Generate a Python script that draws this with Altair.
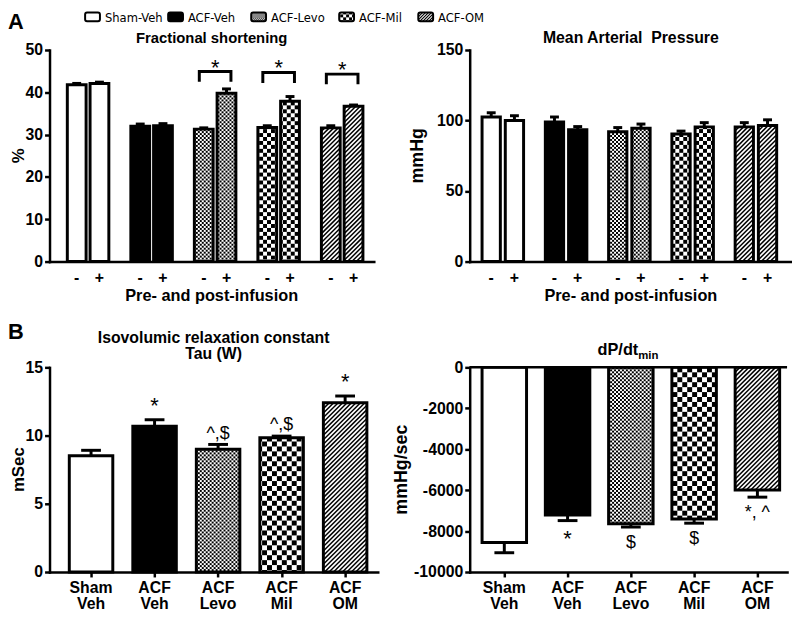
import altair as alt
import numpy as np
import pandas as pd

# ---------------- values ----------------
groups = ["Sham-Veh", "ACF-Veh", "ACF-Levo", "ACF-Mil", "ACF-OM"]
group_labels = ["Sham\nVeh", "ACF\nVeh", "ACF\nLevo", "ACF\nMil", "ACF\nOM"]
infusion = ["-", "+"]

fs_pre = [41.8, 32.0, 31.3, 31.7, 31.6]
fs_pre_err = [0.3, 0.5, 0.3, 0.4, 0.5]
fs_post = [42.1, 32.1, 39.8, 37.9, 36.7]
fs_post_err = [0.3, 0.5, 1.0, 1.1, 0.3]
fs_sig_groups = [2, 3, 4]
fs_sig_top = [44.9, 44.7, 44.3]
fs_sig_leg = [42.5, 42.2, 41.9]
fs_sig_text = ["*", "*", "*"]

map_pre = [102.5, 99.0, 92.0, 90.5, 95.5]
map_pre_err = [3.0, 3.5, 3.0, 2.0, 3.0]
map_post = [100.0, 93.5, 94.5, 95.5, 96.5]
map_post_err = [3.4, 2.2, 3.0, 3.0, 4.0]

tau = [8.52, 10.69, 9.0, 9.84, 12.41]
tau_err = [0.4, 0.47, 0.35, 0.12, 0.49]
tau_sig = ["", "*", "^,$", "^,$", "*"]

dpdt = [-8556, -7221, -7645, -7410, -5997]
dpdt_err = [502, 267, 157, 204, 345]
dpdt_sig = ["", "*", "$", "$", "*, ^"]

fs_ticks = [0, 10, 20, 30, 40, 50]
map_ticks = [0, 50, 100, 150]
tau_ticks = [0, 5, 10, 15]
dpdt_ticks = [-10000, -8000, -6000, -4000, -2000, 0]

# ---------------- styling ----------------
STYLE = ["white", "black", "fine", "checker", "hatch"]
FONT = "Liberation Sans"
NARROW = "'Liberation Sans Narrow', 'DejaVu Sans Condensed', 'Liberation Sans', sans-serif"


class Geo:
    def __init__(self, W, H, first, step, ydom):
        self.W, self.H = W, H
        self.xd = [-first / step, (W - first) / step]
        self.yd = list(ydom)
        self.kx = 1.0 / step
        self.ky = (ydom[1] - ydom[0]) / H

    def px_x(self, px):
        return self.xd[0] + px * self.kx

    def py_y(self, py):
        return self.yd[1] - py * self.ky


def pattern(geo, xl, xr, lo, hi, style, sizes):
    """Pattern fill for the rectangle [xl,xr]x[lo,hi], on a pixel grid of the panel."""
    cells, lines = [], []
    kx, ky = geo.kx, geo.ky
    pxl, pxr = (xl - geo.xd[0]) / kx, (xr - geo.xd[0]) / kx
    pyt, pyb = (geo.yd[1] - hi) / ky, (geo.yd[1] - lo) / ky
    if style in ("fine", "checker"):
        s = sizes[0] if style == "fine" else sizes[1]
        for i in range(int(np.floor(pxl / s)), int(np.ceil(pxr / s))):
            for j in range(int(np.floor(pyt / s)), int(np.ceil(pyb / s))):
                if (i + j) % 2:
                    continue
                xa, xb = max(pxl, i * s), min(pxr, (i + 1) * s)
                ya, yb = max(pyt, j * s), min(pyb, (j + 1) * s)
                if xb - xa <= 0.01 or yb - ya <= 0.01:
                    continue
                cells.append({"x": round(geo.px_x(xa), 5), "x2": round(geo.px_x(xb), 5),
                              "y": round(geo.py_y(ya), 5), "y2": round(geo.py_y(yb), 5)})
    elif style == "hatch":
        p = sizes[2]
        wpx, hpx = pxr - pxl, pyb - pyt
        c = -wpx + p / 2
        while c < hpx:
            xs = max(0.0, -c)
            xe = min(wpx, hpx - c)
            if xe - xs > 0.05:
                lines.append({"x": round(xl + xs * kx, 5), "y": round(lo + (xs + c) * ky, 5),
                              "x2": round(xl + xe * kx, 5), "y2": round(lo + (xe + c) * ky, 5)})
            c += p
    return cells, lines


def build(geo, centers, values, errs, styles, bar_px, cap_px, sizes):
    bars, cells, lines, erows = [], [], [], []
    for c, v, e, s in zip(centers, values, errs, styles):
        hw = bar_px / 2 * geo.kx
        lo, hi = min(0, v), max(0, v)
        bars.append(dict(x=c - hw, x2=c + hw, y=lo, y2=hi,
                         fillc="black" if s == "black" else "white"))
        cc, ll = pattern(geo, c - hw, c + hw, lo, hi, s, sizes)
        cells += cc
        lines += ll
        ye = v + e if v >= 0 else v - e
        erows.append(dict(xc=c, v=v, ye=ye, cl=c - cap_px / 2 * geo.kx, cr=c + cap_px / 2 * geo.kx))
    return pd.DataFrame(bars), pd.DataFrame(cells), pd.DataFrame(lines), pd.DataFrame(erows)


def y_axis(values, expr=None):
    kw = dict(values=values, title=None, grid=False, domainColor="black", domainWidth=2.5,
              domainCap="square", tickColor="black", tickWidth=2.5, tickSize=5,
              labelFont=FONT, labelFontWeight="bold", labelFontSize=16, labelColor="black",
              labelPadding=2, labelFlush=False, labelOverlap=False)
    if expr:
        kw["labelExpr"] = expr
    return alt.Axis(**kw)


def x_axis(values, ticks):
    return alt.Axis(values=values, title=None, grid=False, labels=False, ticks=ticks,
                    tickSize=5, tickWidth=2.5, tickColor="black", domainColor="black",
                    domainWidth=2.5, domainCap="square")


def txt(text, x, y, size, weight="bold", align="center", baseline="alphabetic", angle=0, font=FONT):
    kw = dict(fontSize=size, fontWeight=weight, align=align, baseline=baseline, font=font, color="black")
    if angle:
        kw["angle"] = angle
    return alt.Chart(pd.DataFrame({"t": [text]})).mark_text(**kw).encode(
        x=alt.value(x), y=alt.value(y), text="t:N")


def panel_layers(geo, data, xax, yax):
    bars, cells, lines, erows = data
    xs = alt.Scale(domain=geo.xd, nice=False, zero=False)
    ys = alt.Scale(domain=geo.yd, nice=False, zero=False)

    def X(f):
        return alt.X(f"{f}:Q", scale=xs, axis=xax)

    def Y(f):
        return alt.Y(f"{f}:Q", scale=ys, axis=yax)

    L = [alt.Chart(bars).mark_rect().encode(x=X("x"), x2="x2", y=Y("y"), y2="y2",
                                            fill=alt.Fill("fillc:N", scale=None))]
    if len(cells):
        L.append(alt.Chart(cells).mark_rect(fill="black").encode(x=X("x"), x2="x2", y=Y("y"), y2="y2"))
    if len(lines):
        L.append(alt.Chart(lines).mark_rule(color="black", strokeWidth=1.5).encode(
            x=X("x"), x2="x2", y=Y("y"), y2="y2"))
    L.append(alt.Chart(bars).mark_rect(fillOpacity=0, stroke="black", strokeWidth=3).encode(
        x=X("x"), x2="x2", y=Y("y"), y2="y2"))
    L.append(alt.Chart(erows).mark_rule(color="black", strokeWidth=3).encode(x=X("xc"), y=Y("v"), y2="ye"))
    L.append(alt.Chart(erows).mark_rule(color="black", strokeWidth=3).encode(x=X("cl"), x2="cr", y=Y("ye")))
    return L, X, Y


# ---------------- Panel A left: fractional shortening ----------------
gA1 = Geo(328, 214, 39, 64.25, (0, 50))
off1 = 11.5 * gA1.kx
cen_A1, val_A1, err_A1, sty_A1, sign_A1 = [], [], [], [], []
for g in range(5):
    cen_A1 += [g - off1, g + off1]
    val_A1 += [fs_pre[g], fs_post[g]]
    err_A1 += [fs_pre_err[g], fs_post_err[g]]
    sty_A1 += [STYLE[g], STYLE[g]]
    sign_A1 += infusion
dA1 = build(gA1, cen_A1, val_A1, err_A1, sty_A1, 19, 9, (2, 4, 4.5))
L1, X1, Y1 = panel_layers(gA1, dA1, x_axis(cen_A1, False), y_axis(fs_ticks))
L1.append(alt.Chart(pd.DataFrame({"xc": cen_A1, "s": sign_A1})).mark_text(
    font=FONT, fontWeight="bold", fontSize=16, baseline="middle", color="black").encode(
    x=X1("xc"), y=alt.value(gA1.H + 16.5), text="s:N"))
# significance brackets
br = []
for k, (g, t, lg) in enumerate(zip(fs_sig_groups, fs_sig_top, fs_sig_leg)):
    hw = 16 * gA1.kx
    for o, (xx, yy) in enumerate([(g - hw, lg), (g - hw, t), (g + hw, t), (g + hw, lg)]):
        br.append(dict(k=k, o=o, x=xx, y=yy))
L1.append(alt.Chart(pd.DataFrame(br)).mark_line(color="black", strokeWidth=3, strokeJoin="miter").encode(
    x=X1("x"), y=Y1("y"), detail="k:N", order="o:Q"))
L1.append(alt.Chart(pd.DataFrame({"xc": fs_sig_groups, "y": fs_sig_top, "t": fs_sig_text})).mark_text(
    font=FONT, fontSize=22, baseline="alphabetic", dy=3, color="black").encode(
    x=X1("xc"), y=Y1("y"), text="t:N"))
L1 += [
    txt("Fractional shortening", gA1.W / 2, -7, 15),
    txt("Pre- and post-infusion", gA1.W / 2, gA1.H + 40, 16.5),
    txt("%", -31, gA1.H / 2, 17, baseline="middle", angle=270),
    txt("A", -42, -21, 22, align="left"),
]
# legend (pattern swatches)
LEG_X = [36, 120, 204, 293, 373]
leg_bars, leg_cells, leg_lines, leg_txt = [], [], [], []
for g, px in enumerate(LEG_X):
    xl, xr = gA1.px_x(px), gA1.px_x(px + 15)
    hi, lo = gA1.py_y(-38), gA1.py_y(-29)
    leg_bars.append(dict(x=xl, x2=xr, y=lo, y2=hi, fillc="black" if STYLE[g] == "black" else "white"))
    cc, ll = pattern(gA1, xl, xr, lo, hi, STYLE[g], (1, 3, 3.0))
    leg_cells += cc
    leg_lines += ll
    leg_txt.append(dict(x=gA1.px_x(px + 20), t=groups[g]))
leg_bars = pd.DataFrame(leg_bars)
L1.append(alt.Chart(leg_bars).mark_rect().encode(x=X1("x"), x2="x2", y=Y1("y"), y2="y2",
                                                 fill=alt.Fill("fillc:N", scale=None)))
L1.append(alt.Chart(pd.DataFrame(leg_cells)).mark_rect(fill="black").encode(x=X1("x"), x2="x2", y=Y1("y"), y2="y2"))
L1.append(alt.Chart(pd.DataFrame(leg_lines)).mark_rule(color="black", strokeWidth=1.2).encode(
    x=X1("x"), x2="x2", y=Y1("y"), y2="y2"))
L1.append(alt.Chart(leg_bars).mark_rect(fillOpacity=0, stroke="black", strokeWidth=2, cornerRadius=2).encode(
    x=X1("x"), x2="x2", y=Y1("y"), y2="y2"))
L1.append(alt.Chart(pd.DataFrame(leg_txt)).mark_text(font=NARROW, fontSize=13, align="left",
                                                      baseline="alphabetic", color="black").encode(
    x=X1("x"), y=alt.value(-28), text="t:N"))
A_left = alt.layer(*L1).properties(width=gA1.W, height=gA1.H)

# ---------------- Panel A right: mean arterial pressure ----------------
gA2 = Geo(326, 214, 33.5, 64, (0, 150))
off2 = 11.75 * gA2.kx
cen_A2, val_A2, err_A2, sty_A2, sign_A2 = [], [], [], [], []
for g in range(5):
    cen_A2 += [g - off2, g + off2]
    val_A2 += [map_pre[g], map_post[g]]
    err_A2 += [map_pre_err[g], map_post_err[g]]
    sty_A2 += [STYLE[g], STYLE[g]]
    sign_A2 += infusion
dA2 = build(gA2, cen_A2, val_A2, err_A2, sty_A2, 18.5, 9, (2, 4, 4.5))
L2, X2, Y2 = panel_layers(gA2, dA2, x_axis(cen_A2, False), y_axis(map_ticks))
L2.append(alt.Chart(pd.DataFrame({"xc": cen_A2, "s": sign_A2})).mark_text(
    font=FONT, fontWeight="bold", fontSize=16, baseline="middle", color="black").encode(
    x=X2("xc"), y=alt.value(gA2.H + 16.5), text="s:N"))
L2 += [
    txt("Mean Arterial\u00a0 Pressure", gA2.W / 2, -7, 16),
    txt("Pre- and post-infusion", gA2.W / 2, gA2.H + 40, 16.5),
    txt("mmHg", -52, gA2.H / 2, 18, baseline="middle", angle=270),
]
A_right = alt.layer(*L2).properties(width=gA2.W, height=gA2.H)

# ---------------- Panel B left: Tau ----------------
gB1 = Geo(332, 207, 42, 64.25, (0, 15))
cen_B = list(range(5))
dB1 = build(gB1, cen_B, tau, tau_err, STYLE, 44, 20, (2, 5, 4.5))
L3, X3, Y3 = panel_layers(gB1, dB1, x_axis(cen_B, True), y_axis(tau_ticks))
ann3 = pd.DataFrame({"xc": cen_B, "y": [v + e for v, e in zip(tau, tau_err)], "t": tau_sig})
L3.append(alt.Chart(ann3).transform_filter("datum.t == '*'").mark_text(
    font=FONT, fontSize=22, baseline="alphabetic", dy=-7, color="black").encode(
    x=X3("xc"), y=Y3("y"), text="t:N"))
L3.append(alt.Chart(ann3).transform_filter("datum.t != '*' && datum.t != ''").mark_text(
    font=FONT, fontSize=18, baseline="alphabetic", dy=-6, color="black").encode(
    x=X3("xc"), y=Y3("y"), text="t:N"))
L3.append(alt.Chart(pd.DataFrame({"xc": cen_B, "t": group_labels})).mark_text(
    font=FONT, fontWeight="bold", fontSize=16, baseline="top", lineBreak="\n", lineHeight=16,
    color="black").encode(x=X3("xc"), y=alt.value(gB1.H + 8), text="t:N"))
L3 += [
    txt("Isovolumic relaxation constant", gB1.W / 2, -25, 16),
    txt("Tau (W)", gB1.W / 2, -8, 16),
    txt("mSec", -31, gB1.H / 2, 17, baseline="middle", angle=270),
    txt("B", -42, -29, 22, align="left"),
]
B_left = alt.layer(*L3).properties(width=gB1.W, height=gB1.H)

# ---------------- Panel B right: dP/dt min ----------------
gB2 = Geo(321, 207, 35, 64, (-10000, 0))
dB2 = build(gB2, cen_B, dpdt, dpdt_err, STYLE, 45, 20, (2, 5, 4.5))
L4, X4, Y4 = panel_layers(gB2, dB2, x_axis(cen_B, True), y_axis(dpdt_ticks, "'' + datum.value"))
L4.append(alt.Chart(pd.DataFrame({"a": [gB2.xd[0]], "b": [gB2.xd[1]], "z": [0]})).mark_rule(
    color="black", strokeWidth=2.5).encode(x=X4("a"), x2="b", y=Y4("z")))
ann4 = pd.DataFrame({"xc": cen_B, "y": [v - e for v, e in zip(dpdt, dpdt_err)], "t": dpdt_sig})
L4.append(alt.Chart(ann4).transform_filter("datum.t == '*'").mark_text(
    font=FONT, fontSize=22, baseline="top", dy=9, color="black").encode(
    x=X4("xc"), y=Y4("y"), text="t:N"))
L4.append(alt.Chart(ann4).transform_filter("datum.t != '*' && datum.t != ''").mark_text(
    font=FONT, fontSize=18, baseline="top", dy=7, color="black").encode(
    x=X4("xc"), y=Y4("y"), text="t:N"))
L4.append(alt.Chart(pd.DataFrame({"xc": cen_B, "t": group_labels})).mark_text(
    font=FONT, fontWeight="bold", fontSize=16, baseline="top", lineBreak="\n", lineHeight=16,
    color="black").encode(x=X4("xc"), y=alt.value(gB2.H + 8), text="t:N"))
L4 += [
    txt("dP/dt", gB2.W / 2 + 10, -12, 16.5, align="right"),
    txt("min", gB2.W / 2 + 10, -8, 11.5, align="left"),
    txt("mmHg/sec", -68, gB2.H / 2, 18, baseline="middle", angle=270),
]
B_right = alt.layer(*L4).properties(width=gB2.W, height=gB2.H)

chart = alt.concat(
    A_left, A_right, B_left, B_right,
    columns=2, spacing={"row": 107, "column": 93}, bounds="flush", align="none",
    padding=0, background="white",
).configure_view(stroke=None)

chart.save("out.html", embed_options={"renderer": "svg", "actions": False})
